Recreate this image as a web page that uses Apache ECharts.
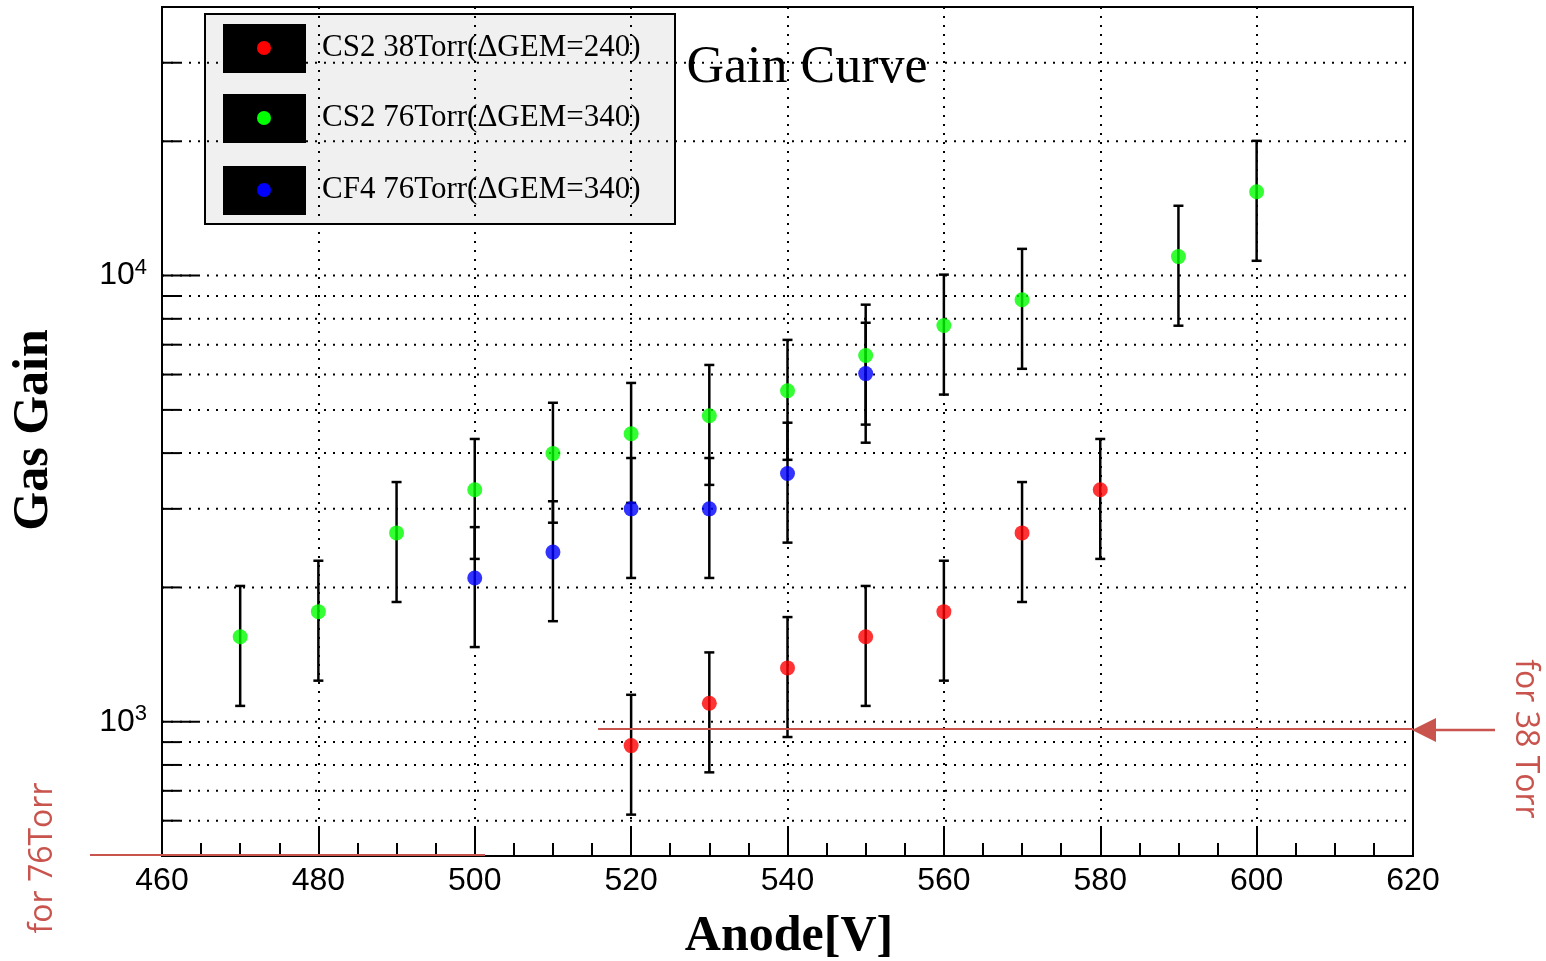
<!DOCTYPE html>
<html><head><meta charset="utf-8">
<script src="https://cdn.jsdelivr.net/npm/echarts@6/dist/echarts.min.js"></script>
<style>html,body{margin:0;padding:0;background:#fff}#c{width:1546px;height:961px}</style>
</head><body><div id="c"></div>
<script>
// ---- data ----
const redX  = [520, 530, 540, 550, 560, 570, 580];
const redY  = [884, 1100, 1320, 1550, 1765, 2650, 3310];
const redLo = [619, 770, 924, 1085, 1236, 1855, 2317];
const redHi = [1149, 1430, 1716, 2015, 2295, 3445, 4303];

const greenX  = [470, 480, 490, 500, 510, 520, 530, 540, 550, 560, 570, 590, 600];
const greenY  = [1550, 1765, 2650, 3310, 3990, 4420, 4850, 5520, 6620, 7730, 8830, 11030, 15420];
const greenLo = [1085, 1236, 1855, 2317, 2793, 3094, 3395, 3864, 4634, 5411, 6181, 7721, 10794];
const greenHi = [2015, 2295, 3445, 4303, 5187, 5746, 6305, 7176, 8606, 10049, 11479, 14339, 20046];

const blueX  = [500, 510, 520, 530, 540, 550];
const blueY  = [2100, 2400, 3000, 3000, 3600, 6030];
const blueLo = [1470, 1680, 2100, 2100, 2520, 4221];
const blueHi = [2730, 3120, 3900, 3900, 4680, 7839];

const seriesNames = ['CS2 38Torr(\u0394GEM=240)', 'CS2 76Torr(\u0394GEM=340)', 'CF4 76Torr(\u0394GEM=340)'];
const seriesColors = ['#ff0000', '#00ff00', '#0000ff'];

const xMin = 460, xMax = 620, xStep = 20;
const yMin = 500, yMax = 40000;
const yMajorTicks = [1000, 10000];
const yMinorTicks = [600, 700, 800, 900, 2000, 3000, 4000, 5000, 6000, 7000, 8000, 9000, 20000, 30000];

const titleText = 'Gain Curve';
const xName = 'Anode[V]';
const yName = 'Gas Gain';
const note38 = 'for 38 Torr';
const note76 = 'for 76Torr';

// ---- chart ----
const chart = echarts.init(document.getElementById('c'), null, {renderer: 'canvas'});
const noteColor = '#c9544e';
const dash = [2, 7];

function errSeries(name, xs, lo, hi) {
  return {
    type: 'custom', name: name, z: 3, silent: true,
    data: xs.map((x, i) => [x, lo[i], hi[i]]),
    encode: {x: 0, y: [1, 2]},
    renderItem: (p, api) => {
      const a = api.coord([api.value(0), api.value(1)]);
      const b = api.coord([api.value(0), api.value(2)]);
      const w = 5;
      const st = {stroke: '#000', lineWidth: 2.5};
      return {type: 'group', children: [
        {type: 'line', shape: {x1: a[0], y1: a[1], x2: b[0], y2: b[1]}, style: st},
        {type: 'line', shape: {x1: a[0] - w, y1: a[1], x2: a[0] + w, y2: a[1]}, style: st},
        {type: 'line', shape: {x1: b[0] - w, y1: b[1], x2: b[0] + w, y2: b[1]}, style: st}
      ]};
    }
  };
}
function ptSeries(name, xs, ys, color) {
  return {
    type: 'scatter', name: name, z: 4, symbol: 'circle', symbolSize: 15,
    itemStyle: {color: color},
    data: xs.map((x, i) => [x, ys[i]])
  };
}

const gridSeries = {
  type: 'custom', silent: true, z: 1,
  data: yMinorTicks.map(v => [xMin, v, 0]).concat(yMajorTicks.map(v => [xMin, v, 1])),
  encode: {x: 0, y: 1},
  renderItem: (p, api) => {
    const v = api.value(1), major = api.value(2);
    const p0 = api.coord([xMin, v]);
    const p1 = api.coord([xMax, v]);
    return {type: 'group', children: [
      {type: 'line', shape: {x1: p0[0], y1: p0[1], x2: p1[0], y2: p1[1]}, style: {stroke: '#000', lineWidth: 2, lineDash: dash}},
      {type: 'line', shape: {x1: p0[0], y1: p0[1], x2: p0[0] + (major ? 36 : 18), y2: p0[1]}, style: {stroke: '#000', lineWidth: 2}}
    ]};
  }
};

const serifFont = '"Liberation Serif", serif';
const sansFont = '"Liberation Sans", Arial, sans-serif';

const legendRows = [48, 118, 190];
const legendChildren = [
  {type: 'rect', shape: {x: 205, y: 14, width: 470, height: 210}, style: {fill: '#f0f0f0', stroke: '#000', lineWidth: 2}}
];
seriesNames.forEach((n, i) => {
  const cy = legendRows[i];
  legendChildren.push({type: 'rect', shape: {x: 223, y: cy - 24, width: 83, height: 49}, style: {fill: '#000'}});
  legendChildren.push({type: 'circle', shape: {cx: 264, cy: cy, r: 7}, style: {fill: seriesColors[i]}});
  legendChildren.push({type: 'text', x: 322, y: cy, style: {text: n, font: '31px ' + serifFont, fill: '#000', textVerticalAlign: 'middle', textAlign: 'left'}});
});

const option = {
  backgroundColor: '#fff',
  animation: false,
  grid: {left: 162, right: 133, top: 7, bottom: 105, show: true, borderColor: '#000', borderWidth: 2, backgroundColor: 'transparent'},
  xAxis: {
    type: 'value', min: xMin, max: xMax, interval: xStep,
    axisLine: {show: true, lineStyle: {color: '#000', width: 2}},
    axisTick: {show: true, inside: true, length: 29, lineStyle: {color: '#000', width: 2}},
    minorTick: {show: true, splitNumber: 4, length: 13, lineStyle: {color: '#000', width: 2}},
    splitLine: {show: true, lineStyle: {color: '#000', width: 2, type: dash}},
    axisLabel: {color: '#000', fontSize: 32, fontFamily: sansFont, margin: 9}
  },
  yAxis: {
    type: 'log', logBase: 10, min: yMin, max: yMax,
    axisLine: {show: true, lineStyle: {color: '#000', width: 2}},
    axisTick: {show: false},
    splitLine: {show: false},
    axisLabel: {
      customValues: yMajorTicks,
      margin: 15,
      formatter: v => {
        const e = Math.round(Math.log10(v));
        if (Math.abs(Math.pow(10, e) - v) > 1e-6 * v) return '';
        return '{b|10}{s|' + e + '}';
      },
      rich: {
        b: {fontSize: 32, fontFamily: sansFont, color: '#000'},
        s: {fontSize: 22, fontFamily: sansFont, color: '#000', verticalAlign: 'bottom', padding: [0, 0, 16, 0]}
      }
    }
  },
  series: [
    gridSeries,
    errSeries(seriesNames[0], redX, redLo, redHi),
    errSeries(seriesNames[1], greenX, greenLo, greenHi),
    errSeries(seriesNames[2], blueX, blueLo, blueHi),
    ptSeries(seriesNames[0], redX, redY, seriesColors[0]),
    ptSeries(seriesNames[1], greenX, greenY, seriesColors[1]),
    ptSeries(seriesNames[2], blueX, blueY, seriesColors[2])
  ],
  graphic: [
    {type: 'text', x: 807, y: 68, z: 10, style: {text: titleText, font: '52px ' + serifFont, fill: '#000', textAlign: 'center', textVerticalAlign: 'middle'}},
    {type: 'text', x: 789, y: 937, z: 10, style: {text: xName, font: 'bold 50px ' + serifFont, fill: '#000', textAlign: 'center', textVerticalAlign: 'middle'}},
    {type: 'text', x: 34, y: 430, rotation: Math.PI / 2, z: 10, style: {text: yName, font: 'bold 50px ' + serifFont, fill: '#000', textAlign: 'center', textVerticalAlign: 'middle'}},
    {type: 'group', z: 10, children: legendChildren},
    // annotations
    {type: 'line', z: 9, shape: {x1: 598, y1: 729, x2: 1413, y2: 729}, style: {stroke: noteColor, lineWidth: 2}},
    {type: 'line', z: 9, shape: {x1: 1430, y1: 730, x2: 1495, y2: 730}, style: {stroke: noteColor, lineWidth: 2.5}},
    {type: 'polygon', z: 9, shape: {points: [[1412, 730], [1436, 718], [1436, 742]]}, style: {fill: noteColor}},
    {type: 'line', z: 9, shape: {x1: 90, y1: 855, x2: 485, y2: 855}, style: {stroke: noteColor, lineWidth: 2}},
    {type: 'text', x: 1525, y: 739, rotation: -Math.PI / 2, z: 10, style: {text: note38, font: '32px "Open Sans", sans-serif', fill: noteColor, textAlign: 'center', textVerticalAlign: 'middle'}},
    {type: 'text', x: 43, y: 858, rotation: Math.PI / 2, z: 10, style: {text: note76, font: '32px "Open Sans", sans-serif', fill: noteColor, textAlign: 'center', textVerticalAlign: 'middle'}}
  ]
};
chart.setOption(option);
</script>
</body></html>
